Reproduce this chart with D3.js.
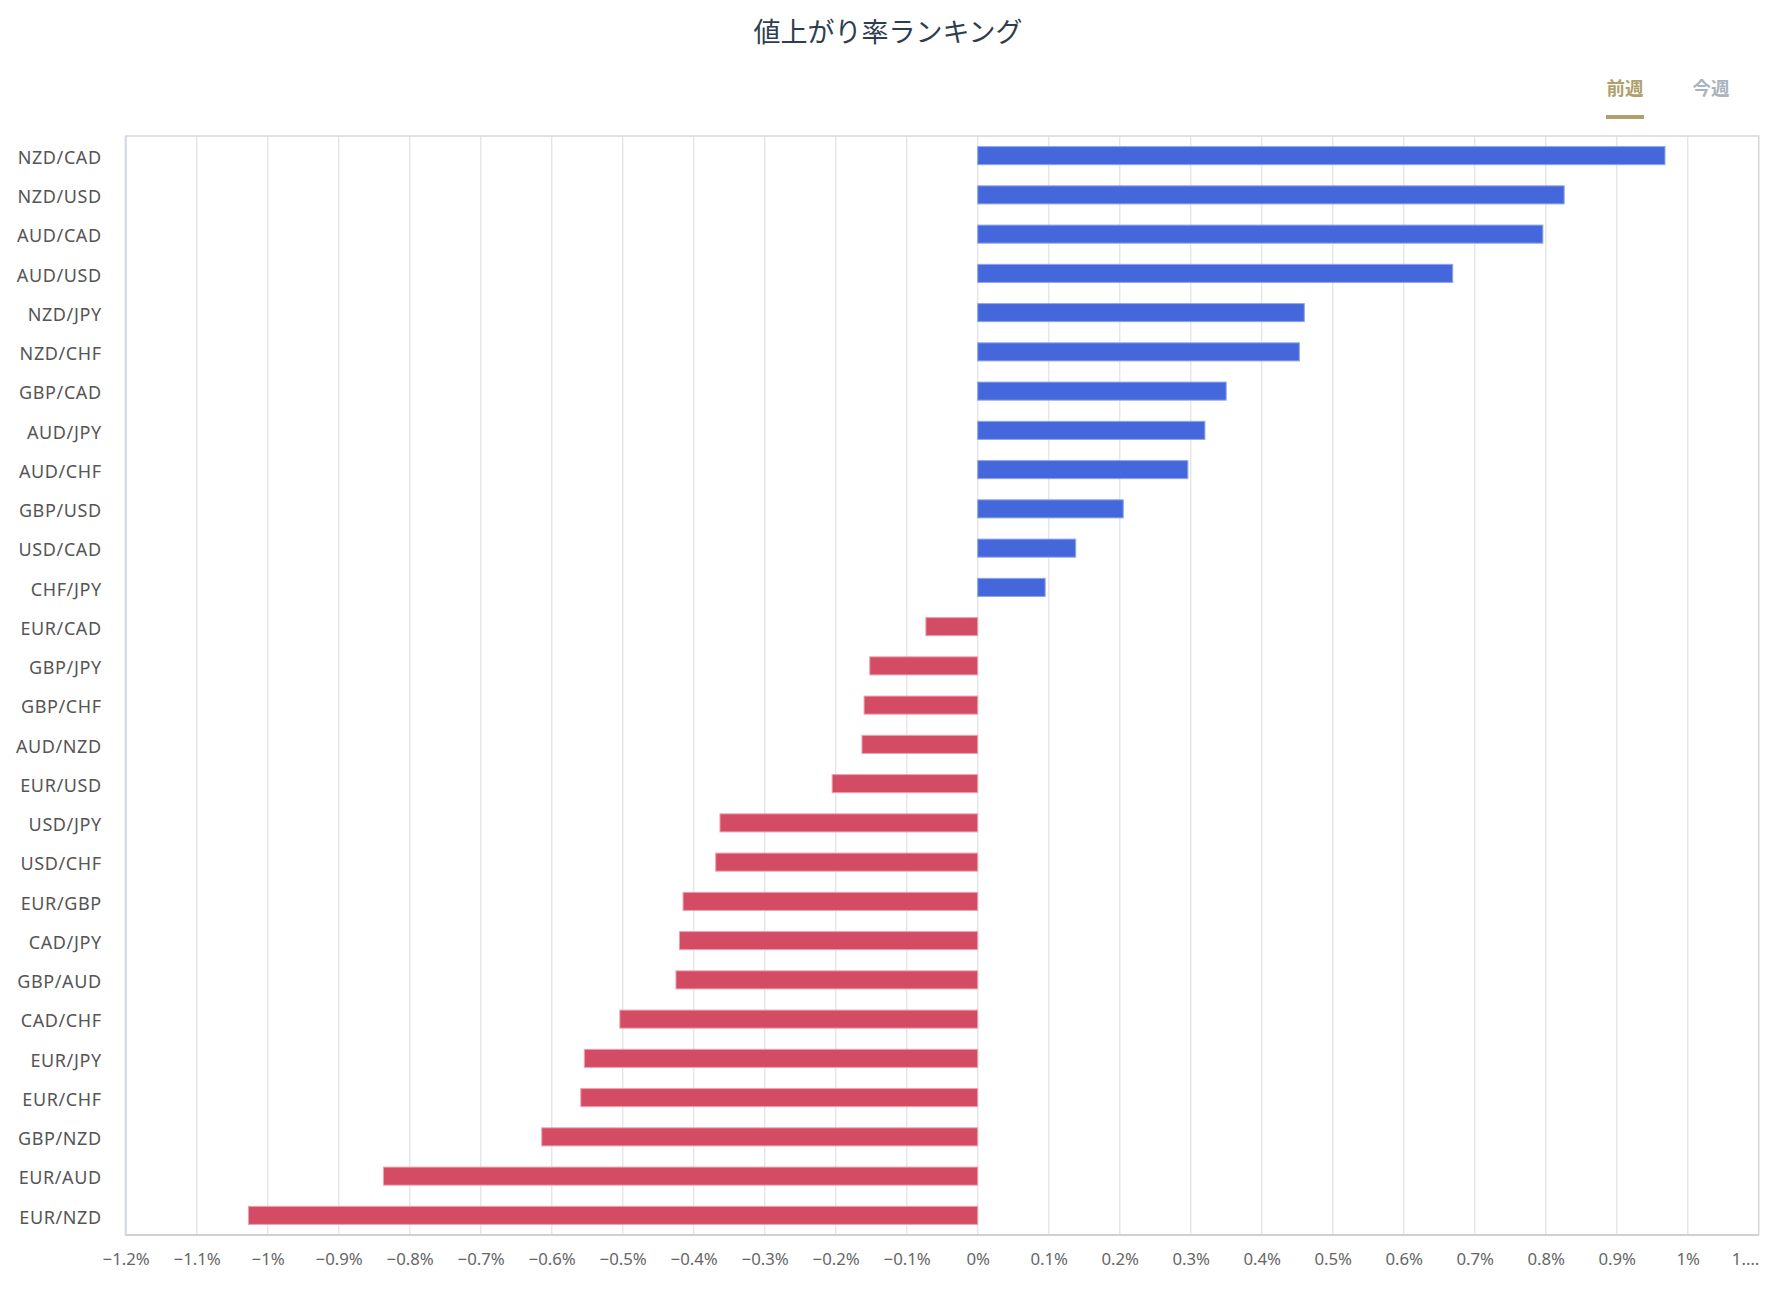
<!DOCTYPE html>
<html><head><meta charset="utf-8">
<script src="https://cdn.jsdelivr.net/npm/d3@7"></script>
<style>
html,body{margin:0;padding:0;background:#fff;}
svg{display:block;font-family:"Noto Sans CJK JP","Noto Sans",sans-serif;}
</style></head>
<body><svg id="chart" width="1776" height="1296"></svg>
<script>
const title = "値上がり率ランキング";
const tabs = ["前週", "今週"];
const categories = ["NZD/CAD","NZD/USD","AUD/CAD","AUD/USD","NZD/JPY","NZD/CHF","GBP/CAD","AUD/JPY","AUD/CHF","GBP/USD","USD/CAD","CHF/JPY","EUR/CAD","GBP/JPY","GBP/CHF","AUD/NZD","EUR/USD","USD/JPY","USD/CHF","EUR/GBP","CAD/JPY","GBP/AUD","CAD/CHF","EUR/JPY","EUR/CHF","GBP/NZD","EUR/AUD","EUR/NZD"];
const values = [0.968,0.826,0.796,0.669,0.460,0.453,0.350,0.320,0.296,0.205,0.138,0.095,-0.073,-0.152,-0.160,-0.163,-0.205,-0.363,-0.369,-0.415,-0.420,-0.425,-0.504,-0.554,-0.559,-0.614,-0.837,-1.027];
const tickValues = [-1.2,-1.1,-1.0,-0.9,-0.8,-0.7,-0.6,-0.5,-0.4,-0.3,-0.2,-0.1,0,0.1,0.2,0.3,0.4,0.5,0.6,0.7,0.8,0.9,1.0,1.1];
const tickLabels = ["−1.2%","−1.1%","−1%","−0.9%","−0.8%","−0.7%","−0.6%","−0.5%","−0.4%","−0.3%","−0.2%","−0.1%","0%","0.1%","0.2%","0.3%","0.4%","0.5%","0.6%","0.7%","0.8%","0.9%","1%","1.…"];

const svg = d3.select("#chart");
const L = 125.7, R = 1758.7, T = 136, B = 1235;
const latinFont = "\"Noto Sans\",\"Noto Sans CJK JP\",sans-serif";

const x = d3.scaleLinear().domain([-1.2, 1.1]).range([L, R]);
const y = d3.scaleBand().domain(categories).range([T, B]).paddingInner(0.54).paddingOuter(0.27);

// title
svg.append("text").attr("x", 888).attr("y", 30).attr("text-anchor", "middle")
  .attr("dominant-baseline", "central").attr("font-size", 27).attr("fill", "#2f3e4e").text(title);

// tabs
const tabX = [1625, 1711];
tabs.forEach((t, i) => {
  svg.append("text").attr("x", tabX[i]).attr("y", 87).attr("text-anchor", "middle")
    .attr("dominant-baseline", "central").attr("font-size", 18.5).attr("font-weight", "bold")
    .attr("fill", i === 0 ? "#b1a06c" : "#a9b4be").text(t);
});
svg.append("rect").attr("x", 1606).attr("y", 115).attr("width", 38).attr("height", 4).attr("fill", "#b1a06c");

// gridlines
const g = svg.append("g");
g.selectAll("line.grid").data(tickValues.slice(1, -1)).join("line")
  .attr("x1", d => x(d)).attr("x2", d => x(d)).attr("y1", T).attr("y2", B)
  .attr("stroke", "#e6e6e6").attr("stroke-width", 1.5);

// border
svg.append("rect").attr("x", L).attr("y", T).attr("width", R - L).attr("height", B - T)
  .attr("fill", "none").attr("stroke", "#d6d6d6").attr("stroke-width", 1.5);
svg.append("line").attr("x1", L).attr("x2", L).attr("y1", T).attr("y2", B)
  .attr("stroke", "#d3d9e8").attr("stroke-width", 2);
svg.append("line").attr("x1", L).attr("x2", R).attr("y1", B).attr("y2", B)
  .attr("stroke", "#d0d0d0").attr("stroke-width", 2);

// bars
svg.append("g").selectAll("rect").data(categories).join("rect")
  .attr("x", (d, i) => Math.min(x(0), x(values[i])))
  .attr("width", (d, i) => Math.abs(x(values[i]) - x(0)))
  .attr("y", d => y(d))
  .attr("height", y.bandwidth())
  .attr("fill", (d, i) => values[i] >= 0 ? "#4468db" : "#d34c64")
  .attr("stroke", (d, i) => values[i] >= 0 ? "#8ea3ec" : "#ee9fae")
  .attr("stroke-width", 1);

// y axis labels
const ya = d3.axisLeft(y).tickSize(0).tickPadding(0);
const yg = svg.append("g").attr("transform", `translate(${L - 24},2.5)`).call(ya);
yg.select(".domain").remove();
yg.selectAll("text").attr("font-size", 18).attr("fill", "#555")
  .attr("letter-spacing", 0.6)
  .attr("font-family", latinFont);

// x axis labels
const xa = d3.axisBottom(x).tickValues(tickValues).tickSize(0).tickPadding(0)
  .tickFormat((d, i) => tickLabels[i]);
const xg = svg.append("g").attr("transform", `translate(0,${B + 18})`).call(xa);
xg.select(".domain").remove();
xg.selectAll("text").attr("font-size", 16.8).attr("fill", "#666")
  .attr("font-family", latinFont);
xg.selectAll(".tick").filter(d => d === 1.1).select("text").attr("text-anchor", "end");
</script></body></html>
